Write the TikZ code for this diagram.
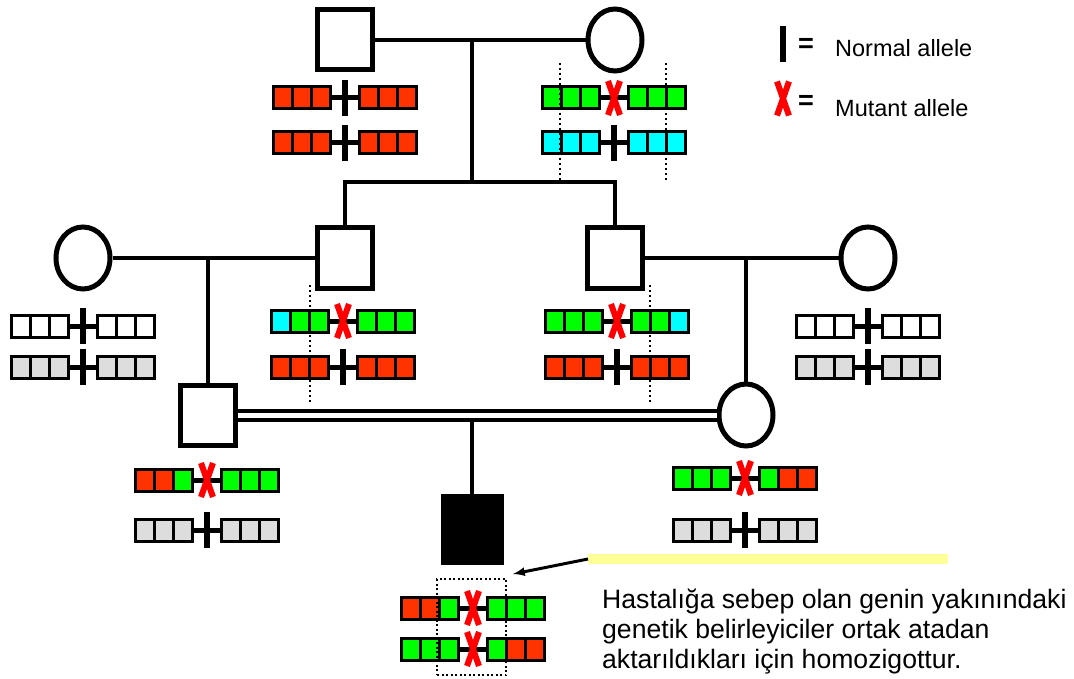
\documentclass[tikz,border=0pt]{standalone}
\usepackage{fontspec}
\setmainfont{Liberation Sans}
\usepackage{xcolor}
\usetikzlibrary{positioning,calc,shapes}
\definecolor{rd}{HTML}{FF3300}
\definecolor{gn}{HTML}{00FF00}
\definecolor{cy}{HTML}{00FFFF}
\definecolor{gy}{HTML}{DDDDDD}
\definecolor{mutred}{HTML}{FF0000}
\definecolor{hlyellow}{HTML}{FFFF99}
\tikzstyle{male}= [rectangle, draw, line width=5pt, fill=white, inner sep=0pt, minimum width=55pt, minimum height=60pt]
\tikzstyle{female}= [ellipse, draw, line width=5pt, fill=white, inner sep=0pt, minimum width=54pt, minimum height=62pt]
\tikzstyle{affected}= [male, fill=black, minimum width=58pt, minimum height=66pt]
\tikzstyle{ped}= [line width=4.5pt]
\tikzstyle{gbox}= [draw, line width=3pt]
\tikzstyle{marker}= [dash pattern=on 1.8pt off 3.2pt, line width=1.8pt]
\newcommand{\nmark}[2]{\draw[line width=6pt] (#1,#2-18) -- (#1,#2+18);}
\newcommand{\xmark}[2]{\draw[line width=6pt, mutred] (#1-6,#2-17) -- (#1+6,#2+17) (#1+6,#2-17) -- (#1-6,#2+17);}
\newcommand{\chromo}[9]{%
	\draw[line width=5pt] (#1-14,#2) -- (#1+14,#2);
	\foreach \c [count=\i from 0] in {#3,#4,#5}
		\draw[gbox, fill=\c] ({#1-72+19.33*\i},{#2-11}) rectangle +(19.33,22);
	\foreach \c [count=\i from 0] in {#6,#7,#8}
		\draw[gbox, fill=\c] ({#1+14+19.33*\i},{#2-11}) rectangle +(19.33,22);
	\ifx n#9\nmark{#1}{#2}\else\xmark{#1}{#2}\fi}

\begin{document}
\begin{tikzpicture}[x=1pt,y=-1pt]
	\useasboundingbox (0,0) rectangle (1074,679);
	\node[male] at (345,40) (I1) {};
	\node[female] at (615,40) (I2) {};
	\node[female] at (83,258) (II1) {};
	\node[male] at (345,258) (II2) {};
	\node[male] at (615,258) (II3) {};
	\node[female] at (868,258) (II4) {};
	\node[male] at (208,415) (III1) {};
	\node[female] at (746,415) (III2) {};
	\node[affected] at (472,529) (IV1) {};
	\coordinate (j1) at (472,40);
	\coordinate (s1) at (472,182);
	\coordinate (j2) at (208,258);
	\coordinate (j3) at (746,258);
	\coordinate (j4) at (472,419);
	\draw[ped] (I1.east) -- (I2.west);
	\draw[ped] (j1) -- (s1);
	\draw[ped] (II2.north) |- (s1) -| (II3.north);
	\draw[ped] (II1.east) -- (II2.west);
	\draw[ped] (II3.east) -- (II4.west);
	\draw[ped] (j2) -- (III1.north);
	\draw[ped] (j3) -- (III2.north);
	\draw[line width=4pt, double, double distance=5pt] (III1.east) -- (III2.west);
	\draw[ped] (j4) -- (IV1.north);
	% haplotypes
	\chromo{345}{98}{rd}{rd}{rd}{rd}{rd}{rd}{n}
	\chromo{345}{143}{rd}{rd}{rd}{rd}{rd}{rd}{n}
	\chromo{614}{98}{gn}{gn}{gn}{gn}{gn}{gn}{x}
	\chromo{614}{143}{cy}{cy}{cy}{cy}{cy}{cy}{n}
	\chromo{83}{326}{white}{white}{white}{white}{white}{white}{n}
	\chromo{83}{367}{gy}{gy}{gy}{gy}{gy}{gy}{n}
	\chromo{343}{321}{cy}{gn}{gn}{gn}{gn}{gn}{x}
	\chromo{343}{367}{rd}{rd}{rd}{rd}{rd}{rd}{n}
	\chromo{617}{321}{gn}{gn}{gn}{gn}{gn}{cy}{x}
	\chromo{617}{367}{rd}{rd}{rd}{rd}{rd}{rd}{n}
	\chromo{868}{326}{white}{white}{white}{white}{white}{white}{n}
	\chromo{868}{367}{gy}{gy}{gy}{gy}{gy}{gy}{n}
	\chromo{207}{480}{rd}{rd}{gn}{gn}{gn}{gn}{x}
	\chromo{207}{530}{gy}{gy}{gy}{gy}{gy}{gy}{n}
	\chromo{745}{478}{gn}{gn}{gn}{gn}{rd}{rd}{x}
	\chromo{745}{530}{gy}{gy}{gy}{gy}{gy}{gy}{n}
	\chromo{473}{608}{rd}{rd}{gn}{gn}{gn}{gn}{x}
	\chromo{473}{649}{gn}{gn}{gn}{gn}{rd}{rd}{x}
	\draw[marker] (560,63) -- (560,180);
	\draw[marker] (666,63) -- (666,180);
	\draw[marker] (310,285) -- (310,402);
	\draw[marker] (650,285) -- (650,402);
	\node[draw, line width=2pt, dash pattern=on 2pt off 2.5pt, inner sep=0pt, minimum width=69pt, minimum height=96pt] at (471.5,627) (hz) {};
	\node[fill=hlyellow, inner sep=0pt, minimum width=360pt, minimum height=10pt, anchor=west] at (588,559) (hl) {};
	\draw[line width=3pt, -latex] (hl.west) -- ([shift={(6,-4)}]hz.north east);
	\node[anchor=north west, align=left, inner sep=0pt, font=\fontsize{26.6}{30}\selectfont] at (602,589) (note) {Hastalığa sebep olan genin yakınındaki\\genetik belirleyiciler ortak atadan\\aktarıldıkları için homozigottur.};
	% legend
	\nmark{783}{44.5}
	\xmark{783}{98.5}
	\node[font=\fontsize{27}{30}\selectfont\bfseries] at (806,45) (eq1) {=};
	\node[font=\fontsize{27}{30}\selectfont\bfseries] at (806,102) (eq2) {=};
	\node[anchor=base west, inner sep=0pt, font=\fontsize{23.5}{27}\selectfont] at (835,57) (lgn) {Normal allele};
	\node[anchor=base west, inner sep=0pt, font=\fontsize{23.5}{27}\selectfont] at (835,117) (lgm) {Mutant allele};
\end{tikzpicture}
\end{document}
